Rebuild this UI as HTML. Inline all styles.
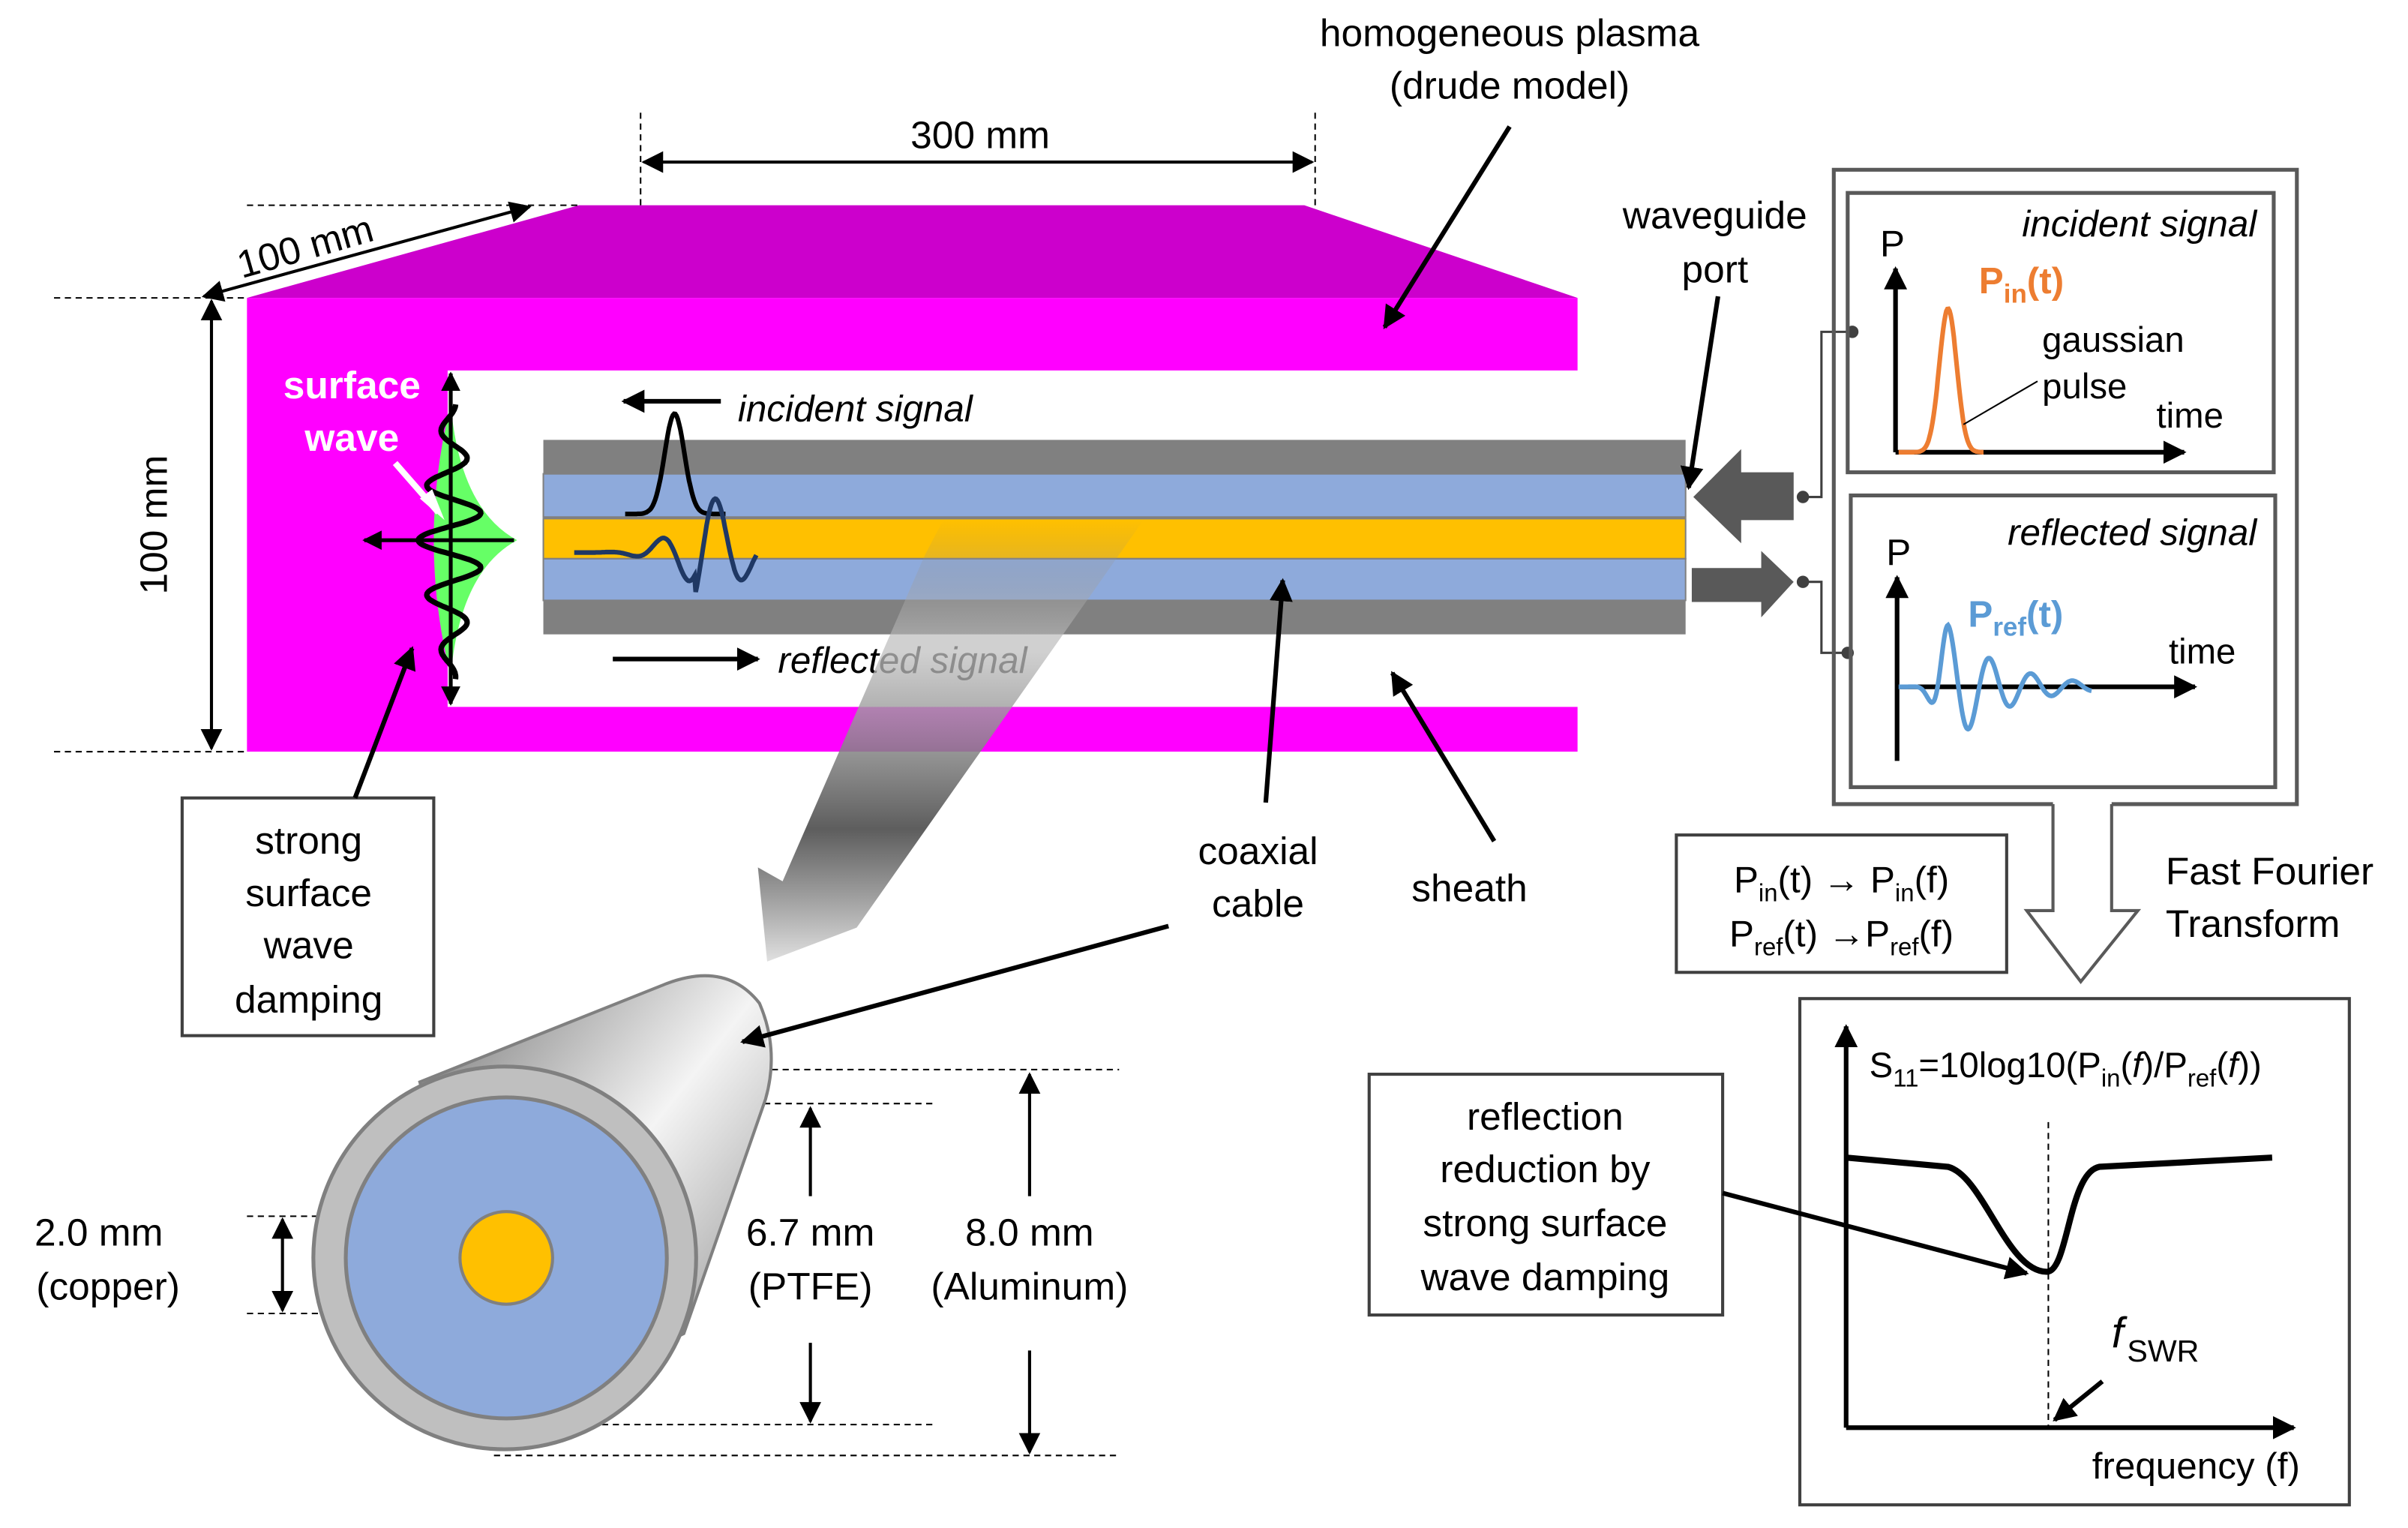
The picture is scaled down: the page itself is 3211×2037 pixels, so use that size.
<!DOCTYPE html>
<html><head><meta charset="utf-8"><style>
html,body{margin:0;padding:0;background:#fff;}
svg{display:block;}
text{font-family:"Liberation Sans",Arial,sans-serif;fill:#000;}
</style></head><body>
<svg width="3211" height="2037" viewBox="0 0 1560 990" preserveAspectRatio="none" xmlns="http://www.w3.org/2000/svg">
<defs>
<marker id="ah" viewBox="0 0 10 10" refX="9" refY="5" markerWidth="5" markerHeight="5" orient="auto-start-reverse" markerUnits="strokeWidth"><path d="M0,0 L10,5 L0,10 z" fill="#000"/></marker>
<marker id="ahs" viewBox="0 0 10 10" refX="9" refY="5" markerWidth="7" markerHeight="7" orient="auto-start-reverse" markerUnits="strokeWidth"><path d="M0,0 L10,5 L0,10 z" fill="#000"/></marker>
<linearGradient id="bg" gradientUnits="userSpaceOnUse" x1="0" y1="337" x2="0" y2="623">
<stop offset="0" stop-color="#808080" stop-opacity="0"/>
<stop offset="0.3" stop-color="#c0c0c0" stop-opacity="0.75"/>
<stop offset="0.7" stop-color="#555" stop-opacity="0.95"/>
<stop offset="1" stop-color="#e0e0e0" stop-opacity="1"/></linearGradient>
<linearGradient id="cyl" x1="0" y1="0" x2="1" y2="1"><stop offset="0" stop-color="#707070"/><stop offset="0.5" stop-color="#f4f4f4"/><stop offset="1" stop-color="#808080"/></linearGradient>
</defs>

<!-- plasma -->
<polygon points="375,133 845,133 1022,193 160,193" fill="#cc00cc"/>
<path d="M160,193 H1022 V240 H290 V458 H1022 V487 H160 Z" fill="#ff00ff"/>
<path d="M292,262 Q298,330 335,350 Q298,370 292,438 Q270,350 292,262 Z" fill="#66ff66"/>
<path id="sw" d="" fill="none" stroke="#000" stroke-width="3.5"/>
<line x1="292" y1="456" x2="292" y2="242" stroke="#000" stroke-width="2.5" marker-end="url(#ah)" marker-start="url(#ah)"/>
<line x1="333" y1="350" x2="236" y2="350" stroke="#000" stroke-width="2.5" marker-end="url(#ah)"/>
<text x="228" y="258" font-size="25" font-weight="bold" text-anchor="middle" style="fill:#fff">surface</text>
<text x="228" y="292" font-size="25" font-weight="bold" text-anchor="middle" style="fill:#fff">wave</text>
<line x1="256" y1="300" x2="284" y2="332" stroke="#fff" stroke-width="4"/>
<polygon points="288,337 272,323 280,317" fill="#fff"/>

<!-- coax -->
<rect x="352" y="285" width="740" height="126" fill="#808080"/>
<rect x="352" y="307" width="740" height="28" fill="#8eaadb" stroke="#808080" stroke-width="1"/>
<rect x="352" y="336" width="740" height="26" fill="#ffc000" stroke="#808080" stroke-width="1"/>
<rect x="352" y="362" width="740" height="27" fill="#8eaadb" stroke="#808080" stroke-width="1"/>
<path id="ip" d="" fill="none" stroke="#000" stroke-width="3"/>
<path id="rp" d="" fill="none" stroke="#1f3864" stroke-width="3"/>

<line x1="467" y1="260" x2="404" y2="260" stroke="#000" stroke-width="3" marker-end="url(#ah)"/>
<text x="478" y="273" font-size="24" font-style="italic">incident signal</text>
<line x1="397" y1="427" x2="491" y2="427" stroke="#000" stroke-width="3" marker-end="url(#ah)"/>
<text x="504" y="436" font-size="24" font-style="italic">reflected signal</text>

<!-- top labels -->
<text x="978" y="30" font-size="25" text-anchor="middle">homogeneous plasma</text>
<text x="978" y="64" font-size="25" text-anchor="middle">(drude model)</text>
<line x1="978" y1="82" x2="897" y2="212" stroke="#000" stroke-width="3" marker-end="url(#ah)"/>

<g stroke="#000" stroke-width="1" stroke-dasharray="4,3">
<line x1="415" y1="73" x2="415" y2="133"/><line x1="852" y1="73" x2="852" y2="133"/>
<line x1="160" y1="133" x2="375" y2="133"/>
<line x1="35" y1="193" x2="160" y2="193"/><line x1="35" y1="487" x2="160" y2="487"/>
<line x1="318" y1="693" x2="725" y2="693"/><line x1="320" y1="715" x2="605" y2="715"/>
<line x1="320" y1="923" x2="605" y2="923"/><line x1="320" y1="943" x2="725" y2="943"/>
<line x1="160" y1="788" x2="330" y2="788"/><line x1="160" y1="851" x2="330" y2="851"/>
</g>
<line x1="417" y1="105" x2="850" y2="105" stroke="#000" stroke-width="2" marker-start="url(#ahs)" marker-end="url(#ahs)"/>
<text x="635" y="96" font-size="25" text-anchor="middle">300 mm</text>
<line x1="132" y1="192" x2="343" y2="134" stroke="#000" stroke-width="2" marker-start="url(#ahs)" marker-end="url(#ahs)"/>
<text x="200" y="168" font-size="25" text-anchor="middle" transform="rotate(-16 200 168)">100 mm</text>
<line x1="137" y1="195" x2="137" y2="485" stroke="#000" stroke-width="2" marker-start="url(#ahs)" marker-end="url(#ahs)"/>
<text x="108" y="340" font-size="25" text-anchor="middle" transform="rotate(-90 108 340)">100 mm</text>

<!-- strong box -->
<rect x="118" y="517" width="163" height="154" fill="#fff" stroke="#404040" stroke-width="2"/>
<g font-size="25" text-anchor="middle">
<text x="200" y="553">strong</text><text x="200" y="587">surface</text><text x="200" y="621">wave</text><text x="200" y="656">damping</text>
</g>
<line x1="230" y1="517" x2="267" y2="420" stroke="#000" stroke-width="3" marker-end="url(#ah)"/>

<!-- gradient arrow -->
<polygon points="611,337 740,338 688,412 555,601 497,623 491,562 507,571 599,360" fill="url(#bg)"/>

<!-- cylinder -->
<path d="M272,701 L430,638 Q470,622 492,650 Q505,680 496,712 L443,864 L330,920 Z" fill="url(#cyl)" stroke="#808080" stroke-width="2"/>
<ellipse cx="327" cy="815" rx="124" ry="124" fill="#bfbfbf" stroke="#808080" stroke-width="2.5"/>
<ellipse cx="328" cy="815" rx="104" ry="104" fill="#8eaadb" stroke="#808080" stroke-width="2.5"/>
<circle cx="328" cy="815" r="30" fill="#ffc000" stroke="#808080" stroke-width="2"/>

<line x1="183" y1="790" x2="183" y2="849" stroke="#000" stroke-width="2" marker-start="url(#ahs)" marker-end="url(#ahs)"/>
<line x1="525" y1="775" x2="525" y2="718" stroke="#000" stroke-width="2" marker-end="url(#ahs)"/>
<line x1="525" y1="870" x2="525" y2="921" stroke="#000" stroke-width="2" marker-end="url(#ahs)"/>
<line x1="667" y1="775" x2="667" y2="696" stroke="#000" stroke-width="2" marker-end="url(#ahs)"/>
<line x1="667" y1="875" x2="667" y2="941" stroke="#000" stroke-width="2" marker-end="url(#ahs)"/>
<g font-size="25" text-anchor="middle">
<text x="64" y="807">2.0 mm</text><text x="70" y="842">(copper)</text>
<text x="525" y="807">6.7 mm</text><text x="525" y="842">(PTFE)</text>
<text x="667" y="807">8.0 mm</text><text x="667" y="842">(Aluminum)</text>
<text x="815" y="560">coaxial</text><text x="815" y="594">cable</text>
<text x="952" y="584">sheath</text>
<text x="1111" y="148">waveguide</text><text x="1111" y="183">port</text>
</g>
<line x1="820" y1="520" x2="831" y2="376" stroke="#000" stroke-width="3" marker-end="url(#ah)"/>
<line x1="757" y1="600" x2="481" y2="675" stroke="#000" stroke-width="3" marker-end="url(#ah)"/>
<line x1="968" y1="545" x2="902" y2="436" stroke="#000" stroke-width="3" marker-end="url(#ah)"/>
<line x1="1113" y1="192" x2="1094" y2="316" stroke="#000" stroke-width="3" marker-end="url(#ah)"/>

<!-- port arrows -->
<polygon points="1097,322 1128,291 1128,306 1162,306 1162,337 1128,337 1128,352" fill="#595959"/>
<polygon points="1096,368 1141,368 1141,357 1162,377 1141,400 1141,390 1096,390" fill="#595959"/>
<g fill="none" stroke="#404040" stroke-width="1.5">
<polyline points="1168,322 1180,322 1180,215 1200,215"/>
<polyline points="1168,377 1180,377 1180,423 1197,423"/>
</g>
<g fill="#404040"><circle cx="1168" cy="322" r="4"/><circle cx="1200" cy="215" r="4"/><circle cx="1168" cy="377" r="4"/><circle cx="1197" cy="423" r="4"/></g>

<!-- right panel -->
<path d="M1330,521 H1188 V110 H1488 V521 H1368" fill="none" stroke="#595959" stroke-width="2.5"/>
<path d="M1330,521 V590 H1313 L1348,636 L1385,590 H1368 V521" fill="#fff" stroke="#595959" stroke-width="2"/>
<rect x="1197" y="125" width="276" height="181" fill="none" stroke="#595959" stroke-width="2.5"/>
<rect x="1199" y="321" width="275" height="189" fill="none" stroke="#595959" stroke-width="2.5"/>
<text x="1462" y="153" font-size="24" font-style="italic" text-anchor="end">incident signal</text>
<text x="1462" y="353" font-size="24" font-style="italic" text-anchor="end">reflected signal</text>
<text x="1218" y="166" font-size="24">P</text>
<text x="1222" y="366" font-size="24">P</text>
<line x1="1228" y1="293" x2="1228" y2="174" stroke="#000" stroke-width="3" marker-end="url(#ah)"/>
<line x1="1228" y1="293" x2="1415" y2="293" stroke="#000" stroke-width="3" marker-end="url(#ah)"/>
<line x1="1229" y1="493" x2="1229" y2="374" stroke="#000" stroke-width="3" marker-end="url(#ah)"/>
<line x1="1229" y1="445" x2="1422" y2="445" stroke="#000" stroke-width="3" marker-end="url(#ah)"/>
<path id="op" d="" fill="none" stroke="#ed7d31" stroke-width="3"/>
<path id="bp" d="" fill="none" stroke="#5b9bd5" stroke-width="3"/>
<text x="1282" y="190" font-size="24" font-weight="bold" style="fill:#ed7d31">P<tspan font-size="17" dy="6">in</tspan><tspan dy="-6">(t)</tspan></text>
<text x="1275" y="406" font-size="24" font-weight="bold" style="fill:#5b9bd5">P<tspan font-size="17" dy="6">ref</tspan><tspan dy="-6">(t)</tspan></text>
<text x="1323" y="228" font-size="23">gaussian</text>
<text x="1323" y="258" font-size="23">pulse</text>
<line x1="1320" y1="247" x2="1272" y2="275" stroke="#000" stroke-width="1"/>
<text x="1397" y="277" font-size="23">time</text>
<text x="1405" y="430" font-size="23">time</text>

<!-- FFT -->
<rect x="1086" y="541" width="214" height="89" fill="none" stroke="#404040" stroke-width="2"/>
<text x="1193" y="578" font-size="24" text-anchor="middle">P<tspan font-size="16" dy="6">in</tspan><tspan dy="-6">(t) </tspan><tspan font-weight="bold">→</tspan> P<tspan font-size="16" dy="6">in</tspan><tspan dy="-6">(f)</tspan></text>
<text x="1193" y="613" font-size="24" text-anchor="middle">P<tspan font-size="16" dy="6">ref</tspan><tspan dy="-6">(t) </tspan><tspan font-weight="bold">→</tspan>P<tspan font-size="16" dy="6">ref</tspan><tspan dy="-6">(f)</tspan></text>
<text x="1403" y="573" font-size="25">Fast Fourier</text>
<text x="1403" y="607" font-size="25">Transform</text>

<!-- S11 -->
<rect x="1166" y="647" width="356" height="328" fill="none" stroke="#404040" stroke-width="2"/>
<line x1="1196" y1="925" x2="1196" y2="665" stroke="#000" stroke-width="3" marker-end="url(#ah)"/>
<line x1="1196" y1="925" x2="1486" y2="925" stroke="#000" stroke-width="3" marker-end="url(#ah)"/>
<text x="1211" y="698" font-size="23">S<tspan font-size="16" dy="6">11</tspan><tspan dy="-6">=10log10(P</tspan><tspan font-size="16" dy="6">in</tspan><tspan dy="-6">(</tspan><tspan font-style="italic">f</tspan>)/P<tspan font-size="16" dy="6">ref</tspan><tspan dy="-6">(</tspan><tspan font-style="italic">f</tspan>))</text>
<line x1="1327" y1="727" x2="1327" y2="925" stroke="#000" stroke-width="1" stroke-dasharray="4,3"/>
<path d="M1196,750 L1262,756 C1285,762 1300,824 1326,824 C1340,824 1340,760 1360,756 L1472,750" fill="none" stroke="#000" stroke-width="4"/>
<text x="1368" y="873" font-size="28" font-style="italic">f</text>
<text x="1378" y="882" font-size="20">SWR</text>
<line x1="1362" y1="895" x2="1331" y2="920" stroke="#000" stroke-width="3" marker-end="url(#ah)"/>
<text x="1490" y="958" font-size="24" text-anchor="end">frequency (f)</text>
<rect x="887" y="696" width="229" height="156" fill="#fff" stroke="#404040" stroke-width="2"/>
<g font-size="25" text-anchor="middle">
<text x="1001" y="732">reflection</text><text x="1001" y="766">reduction by</text><text x="1001" y="801">strong surface</text><text x="1001" y="836">wave damping</text>
</g>
<line x1="1116" y1="773" x2="1313" y2="825" stroke="#000" stroke-width="3" marker-end="url(#ah)"/>
</svg>
<script>
function P(id,f,a,b,n){var s='';for(var i=0;i<=n;i++){var t=a+(b-a)*i/n;var p=f(t);s+=(i?'L':'M')+p[0].toFixed(1)+','+p[1].toFixed(1);}document.getElementById(id).setAttribute('d',s);}
P('sw',function(y){var g=Math.exp(-Math.pow((y-350)/65,2));return [292-21*g*Math.cos(2*Math.PI*(y-350)/36),y];},262,440,260);
P('ip',function(x){return [x,333-65*Math.exp(-Math.pow((x-437)/9,2))];},405,470,80);
P('rp',function(x){var g=Math.exp(-Math.pow((x-455)/30,2));return [x,358-(x>450?38:20)*g*Math.sin(2*Math.PI*(x-455)/36)];},372,490,150);
P('op',function(x){return [x,293-93*Math.exp(-Math.pow((x-1262)/8,2))];},1230,1285,80);
P('bp',function(x){var A=x<1262?40*Math.exp(-Math.pow((x-1262)/10,2)):40*Math.exp(-(x-1262)/35);return [x,445-A*Math.cos(2*Math.PI*(x-1262)/27)];},1230,1355,250);
</script>
</body></html>
